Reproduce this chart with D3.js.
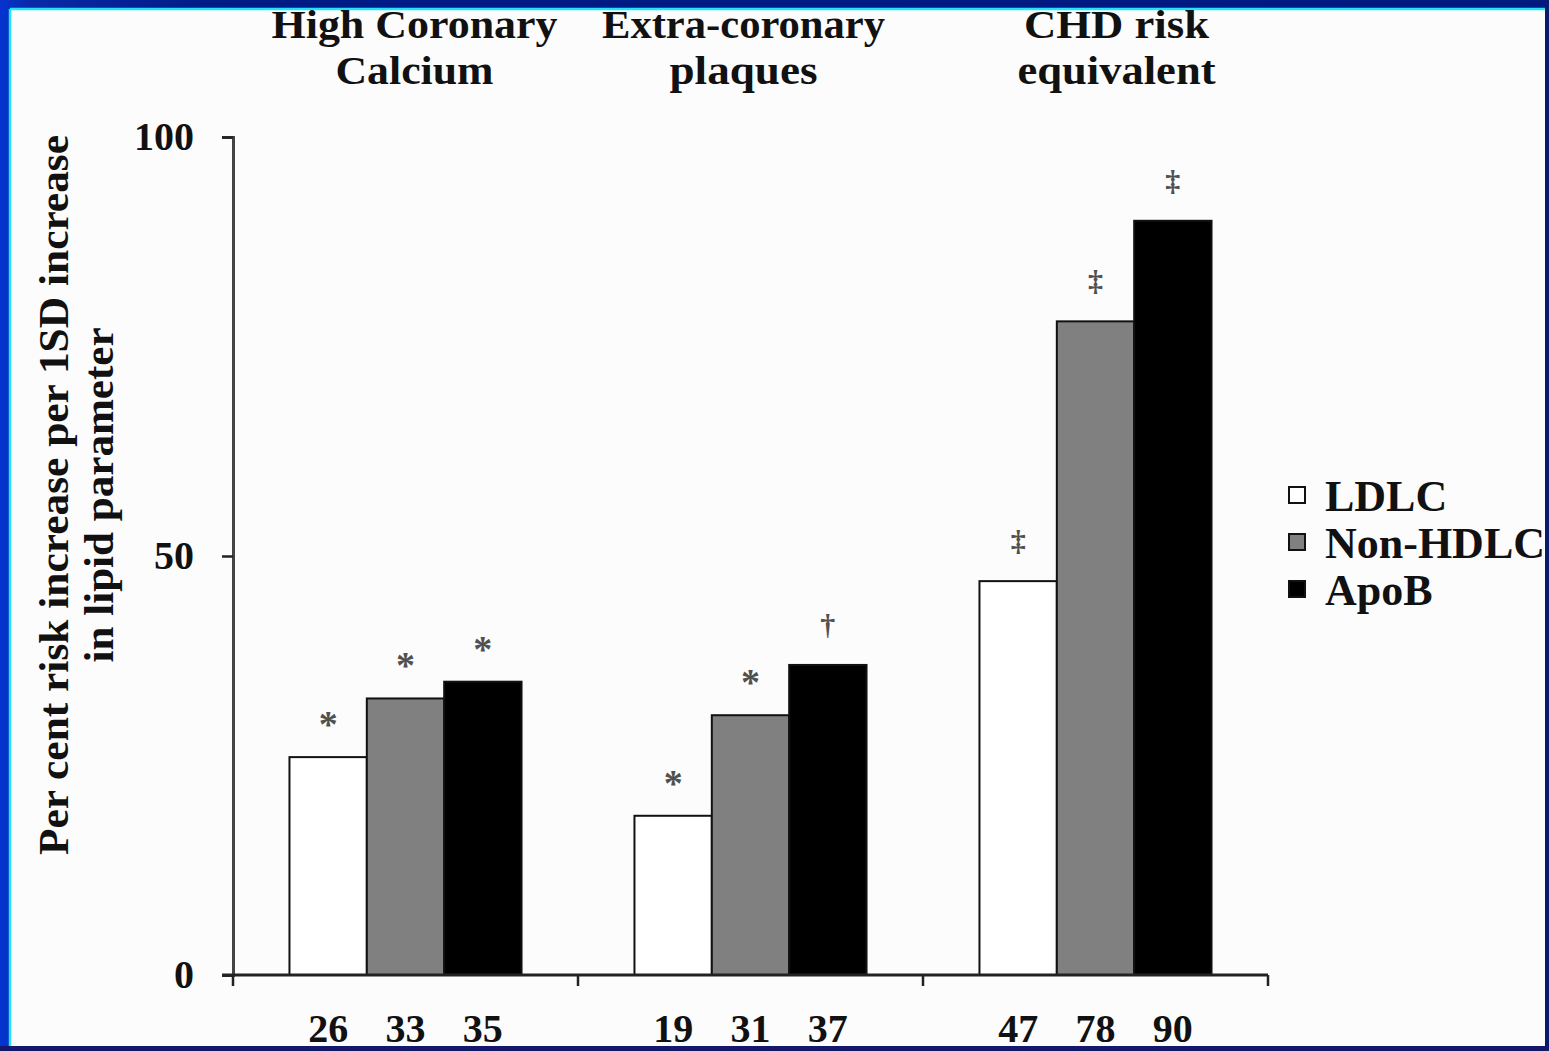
<!DOCTYPE html>
<html>
<head>
<meta charset="utf-8">
<script src="https://cdn.jsdelivr.net/npm/d3@7"></script>
<style>
  html, body { margin: 0; padding: 0; }
  body { width: 1549px; height: 1051px; overflow: hidden;
         background: linear-gradient(to right, #0434d0 0px, #0a2aa8 30px, #001c86 200px, #001a80 100%); }
  svg { display: block; }
  text { font-family: "Liberation Serif", "Times New Roman", serif; font-weight: bold; fill: #111; }
</style>
</head>
<body>
<script>
// Outcome groups (two-line headings), lipid parameters and percentages
const categories = ["High Coronary Calcium", "Extra-coronary plaques", "CHD risk equivalent"];
const categoryLines = [["High Coronary", "Calcium"], ["Extra-coronary", "plaques"], ["CHD risk", "equivalent"]];
const series = ["LDLC", "Non-HDLC", "ApoB"];
const ldlc = [26, 19, 47];
const nonHdlc = [33, 31, 78];
const apoB = [35, 37, 90];
const significance = [["*", "*", "*"], ["*", "*", "\u2020"], ["\u2021", "\u2021", "\u2021"]];
const yTicks = [0, 50, 100];
const yLabelLines = ["Per cent risk increase per 1SD increase", "in lipid parameter"];

const seriesValues = [ldlc, nonHdlc, apoB];
const fills = { "LDLC": "#ffffff", "Non-HDLC": "#808080", "ApoB": "#000000" };

const W = 1549, H = 1051;
const svg = d3.select("body").append("svg").attr("width", W).attr("height", H);

// white slide panel with a cyan rim on the top and left edges
svg.append("rect").attr("x", 11).attr("y", 10).attr("width", 1534).attr("height", 1036).attr("fill", "#fcfcfc");
svg.append("line").attr("x1", 10).attr("x2", 1545).attr("y1", 9).attr("y2", 9).attr("stroke", "#22e4ff").attr("stroke-width", 2.5);
svg.append("line").attr("x1", 10).attr("x2", 10).attr("y1", 9).attr("y2", 1046).attr("stroke", "#22e4ff").attr("stroke-width", 2.5);

const x0 = d3.scaleBand().domain(categories).range([233, 1268]).paddingInner(0).paddingOuter(0);
const x1 = d3.scaleBand().domain(series).range([0, x0.bandwidth()]).paddingInner(0).paddingOuter(0.73);
const y = d3.scaleLinear().domain([0, 100]).range([975, 137]);

const rows = [];
categories.forEach((c, i) => series.forEach((s, j) => rows.push({ cat: c, ci: i, s, value: seriesValues[j][i], mark: significance[i][j] })));

const g = svg.append("g");

// bars
g.selectAll("rect.bar").data(rows).join("rect")
  .attr("class", "bar")
  .attr("x", d => x0(d.cat) + x1(d.s))
  .attr("width", x1.bandwidth())
  .attr("y", d => y(d.value))
  .attr("height", d => y(0) - y(d.value))
  .attr("fill", d => fills[d.s])
  .attr("stroke", "#111").attr("stroke-width", 2);

// significance markers above bars
g.selectAll("text.sig").data(rows).join("text")
  .attr("class", "sig")
  .attr("x", d => x0(d.cat) + x1(d.s) + x1.bandwidth() / 2)
  .attr("y", d => y(d.value) - (d.mark === "*" ? 20 : 30))
  .attr("text-anchor", "middle")
  .attr("font-size", d => d.mark === "*" ? 38 : 30)
  .style("fill", "#505050")
  .text(d => d.mark);

// value labels beneath the axis
g.selectAll("text.val").data(rows).join("text")
  .attr("class", "val")
  .attr("x", d => x0(d.cat) + x1(d.s) + x1.bandwidth() / 2)
  .attr("y", 1042)
  .attr("text-anchor", "middle")
  .attr("font-size", 40)
  .text(d => d.value);

// y axis
const yAxis = d3.axisLeft(y).tickValues(yTicks).tickSize(11).tickPadding(28).tickFormat(d3.format("d"));
const ya = svg.append("g").attr("transform", "translate(233,0)").call(yAxis);
ya.select(".domain").attr("stroke", "#444").attr("stroke-width", 3);
ya.selectAll(".tick line").attr("stroke", "#222").attr("stroke-width", 2.5);
ya.selectAll(".tick text").attr("font-size", 40).attr("font-family", "Liberation Serif").attr("font-weight", "bold").attr("fill", "#111");

// x axis baseline with group separators
const boundaries = categories.map(c => x0(c)).concat([x0.range()[1]]);
svg.append("line").attr("x1", 222).attr("x2", 1268).attr("y1", y(0)).attr("y2", y(0)).attr("stroke", "#222").attr("stroke-width", 3);
svg.selectAll("line.sep").data(boundaries).join("line")
  .attr("class", "sep")
  .attr("x1", d => d).attr("x2", d => d)
  .attr("y1", y(0)).attr("y2", y(0) + 11)
  .attr("stroke", "#222").attr("stroke-width", 2.5);

// group headings, two stretched lines each, nudged from the band centre
const headingShift = [9, -7, 21];
const headingSpan = [[286, 158], [283, 148], [185, 198]];
categoryLines.forEach((lines, i) => {
  const cx = x0(categories[i]) + x0.bandwidth() / 2 + headingShift[i];
  lines.forEach((line, k) => {
    svg.append("text").attr("x", cx).attr("y", 38 + k * 46)
      .attr("text-anchor", "middle").attr("font-size", 40)
      .attr("textLength", headingSpan[i][k]).attr("lengthAdjust", "spacingAndGlyphs")
      .text(line);
  });
});

// y axis title, two condensed lines
const yLabelSpan = [720, 335];
yLabelLines.forEach((t, k) => {
  svg.append("text")
    .attr("transform", `translate(${68 + k * 45},495) rotate(-90)`)
    .attr("text-anchor", "middle").attr("font-size", 42)
    .attr("textLength", yLabelSpan[k]).attr("lengthAdjust", "spacingAndGlyphs")
    .text(t);
});

// legend
const lg = svg.append("g").attr("transform", "translate(1289,497)");
series.forEach((s, i) => {
  const row = lg.append("g").attr("transform", `translate(0,${i * 47})`);
  row.append("rect").attr("x", 0).attr("y", -10).attr("width", 16).attr("height", 16)
    .attr("fill", fills[s]).attr("stroke", "#111").attr("stroke-width", 2);
  row.append("text").attr("x", 36).attr("y", 14).attr("font-size", 44).text(s);
});

// right-hand and bottom frame edges drawn over the panel
svg.append("rect").attr("x", 1545).attr("y", 0).attr("width", 4).attr("height", H).attr("fill", "#0a1a6a");
svg.append("rect").attr("x", 0).attr("y", 1046).attr("width", W).attr("height", 5).attr("fill", "#14186a");
</script>
</body>
</html>
